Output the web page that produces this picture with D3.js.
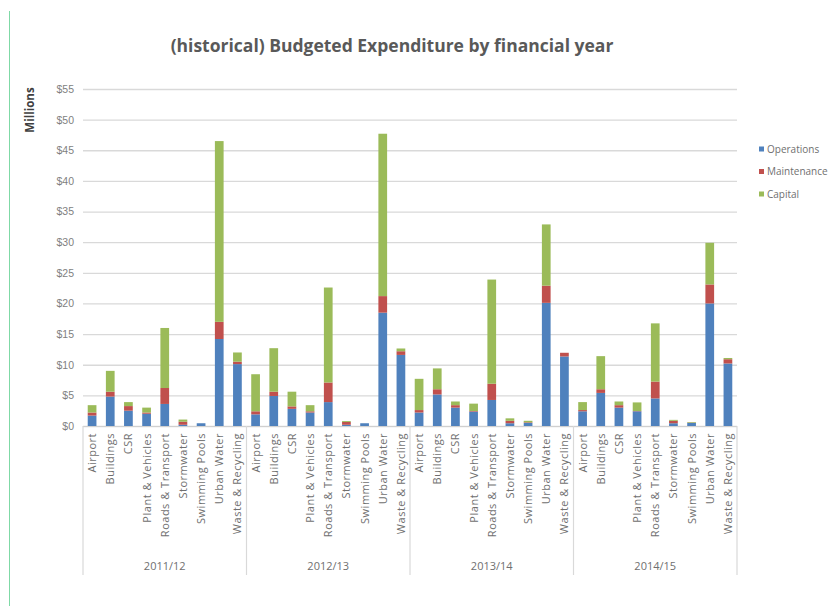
<!DOCTYPE html>
<html>
<head>
<meta charset="utf-8">
<script src="https://cdn.jsdelivr.net/npm/d3@7"></script>
<style>
  html, body { margin: 0; padding: 0; background: #fff; }
  svg { display: block; font-family: "Open Sans", "Liberation Sans", sans-serif; }
</style>
</head>
<body>
<svg id="chart" width="829" height="606"></svg>
<script>
// Budgeted expenditure ($ millions) per service, stacked by cost type, grouped by financial year
const years = ["2011/12", "2012/13", "2013/14", "2014/15"];
const services = ["Airport", "Buildings", "CSR", "Plant & Vehicles", "Roads & Transport",
                  "Stormwater", "Swimming Pools", "Urban Water", "Waste & Recycling"];
const seriesNames = ["Operations", "Maintenance", "Capital"];
const seriesColors = ["#4F81BD", "#C0504D", "#9BBB59"];

// one row per year, values in service order
const operations = [
  [1.7, 4.8, 2.5, 2.0, 3.6, 0.2, 0.45, 14.2, 10.1],
  [1.9, 4.9, 2.8, 2.2, 3.9, 0.2, 0.45, 18.5, 11.6],
  [2.2, 5.15, 3.0, 2.35, 4.25, 0.45, 0.5, 20.1, 11.35],
  [2.4, 5.4, 3.0, 2.4, 4.5, 0.45, 0.5, 20.0, 10.2]
];
const maintenance = [
  [0.5, 0.8, 0.75, 0.2, 2.6, 0.5, 0, 2.8, 0.4],
  [0.5, 0.7, 0.4, 0.2, 3.2, 0.45, 0, 2.7, 0.6],
  [0.4, 0.85, 0.4, 0.1, 2.65, 0.4, 0.1, 2.8, 0.6],
  [0.2, 0.6, 0.4, 0.05, 2.75, 0.4, 0.05, 3.1, 0.7]
];
const capital = [
  [1.2, 3.4, 0.65, 0.8, 9.8, 0.35, 0, 29.5, 1.5],
  [6.05, 7.1, 2.4, 1.0, 15.5, 0.15, 0, 26.5, 0.45],
  [5.1, 3.4, 0.6, 1.2, 17.0, 0.4, 0.25, 10.0, 0],
  [1.3, 5.4, 0.6, 1.4, 9.5, 0.15, 0.1, 6.8, 0.2]
];
const yTicks = [0, 5, 10, 15, 20, 25, 30, 35, 40, 45, 50, 55];

const rows = [];
years.forEach((yr, yi) => {
  services.forEach((s, si) => {
    rows.push({
      key: yr + "|" + s, year: yr, service: s,
      Operations: operations[yi][si],
      Maintenance: maintenance[yi][si],
      Capital: capital[yi][si]
    });
  });
});

const svg = d3.select("#chart");
const plot = { left: 83, right: 737, top: 89, bottom: 426 };

// page border on the left
svg.append("line")
  .attr("x1", 9.5).attr("x2", 9.5).attr("y1", 11).attr("y2", 606)
  .attr("stroke", "#7fd9a6").attr("stroke-width", 1);

const x = d3.scaleBand().domain(rows.map(d => d.key))
  .range([plot.left, plot.right]).paddingInner(0.52).paddingOuter(0.26);
const y = d3.scaleLinear().domain([0, 55]).range([plot.bottom, plot.top]);

// gridlines and y labels
const yAxis = d3.axisLeft(y).tickValues(yTicks).tickSize(-(plot.right - plot.left))
  .tickPadding(9).tickFormat(d => "$" + d);
const gy = svg.append("g").attr("transform", `translate(${plot.left},0)`).call(yAxis);
gy.select(".domain").remove();
gy.selectAll(".tick line").attr("stroke", "#d9d9d9").attr("stroke-width", 1.3);
gy.selectAll(".tick text").attr("fill", "#7f7f7f").attr("font-size", 10.5);

// stacked bars
const stack = d3.stack().keys(seriesNames);
const layers = stack(rows);
svg.append("g").selectAll("g").data(layers).join("g")
  .attr("fill", (d, i) => seriesColors[i])
  .selectAll("rect").data(d => d).join("rect")
  .attr("x", d => x(d.data.key))
  .attr("width", x.bandwidth())
  .attr("y", d => y(d[1]))
  .attr("height", d => Math.max(0, y(d[0]) - y(d[1])));

// category axis line
svg.append("line")
  .attr("x1", plot.left).attr("x2", plot.right)
  .attr("y1", plot.bottom + 0.5).attr("y2", plot.bottom + 0.5)
  .attr("stroke", "#d0d0d0").attr("stroke-width", 1.2);

// service labels, rotated
svg.append("g").selectAll("text").data(rows).join("text")
  .attr("transform", d => `translate(${x(d.key) + x.bandwidth() / 2 + 4},${plot.bottom + 7}) rotate(-90)`)
  .attr("text-anchor", "end")
  .attr("fill", "#6f6f6f").attr("font-size", 11).attr("letter-spacing", 0.5)
  .text(d => d.service);

// year groups: separators and labels
const groupWidth = (plot.right - plot.left) / years.length;
const sepX = d3.range(years.length + 1).map(i => plot.left + i * groupWidth);
svg.append("g").selectAll("line").data(sepX).join("line")
  .attr("x1", d => d).attr("x2", d => d)
  .attr("y1", plot.bottom).attr("y2", 575)
  .attr("stroke", "#d9d9d9").attr("stroke-width", 1.2);
svg.append("g").selectAll("text").data(years).join("text")
  .attr("x", (d, i) => plot.left + (i + 0.5) * groupWidth)
  .attr("y", 570)
  .attr("text-anchor", "middle")
  .attr("fill", "#6f6f6f").attr("font-size", 11)
  .text(d => d);

// title
svg.append("text")
  .attr("x", 392).attr("y", 52)
  .attr("text-anchor", "middle")
  .attr("font-size", 17.5).attr("font-weight", "bold")
  .attr("fill", "#595959")
  .text("(historical) Budgeted Expenditure by financial year");

// y axis title
svg.append("text")
  .attr("transform", "translate(34,110) rotate(-90)")
  .attr("text-anchor", "middle")
  .attr("font-size", 11.5).attr("font-weight", "bold")
  .attr("fill", "#404040")
  .text("Millions");

// legend
const legend = svg.append("g").selectAll("g").data(seriesNames).join("g")
  .attr("transform", (d, i) => `translate(759,${149 + i * 22.5})`);
legend.append("rect")
  .attr("x", 0).attr("y", -2.5).attr("width", 5).attr("height", 5)
  .attr("fill", (d, i) => seriesColors[i]);
legend.append("text")
  .attr("x", 8).attr("y", 3.5)
  .attr("font-size", 10).attr("fill", "#6f6f6f")
  .text(d => d);
</script>
</body>
</html>
